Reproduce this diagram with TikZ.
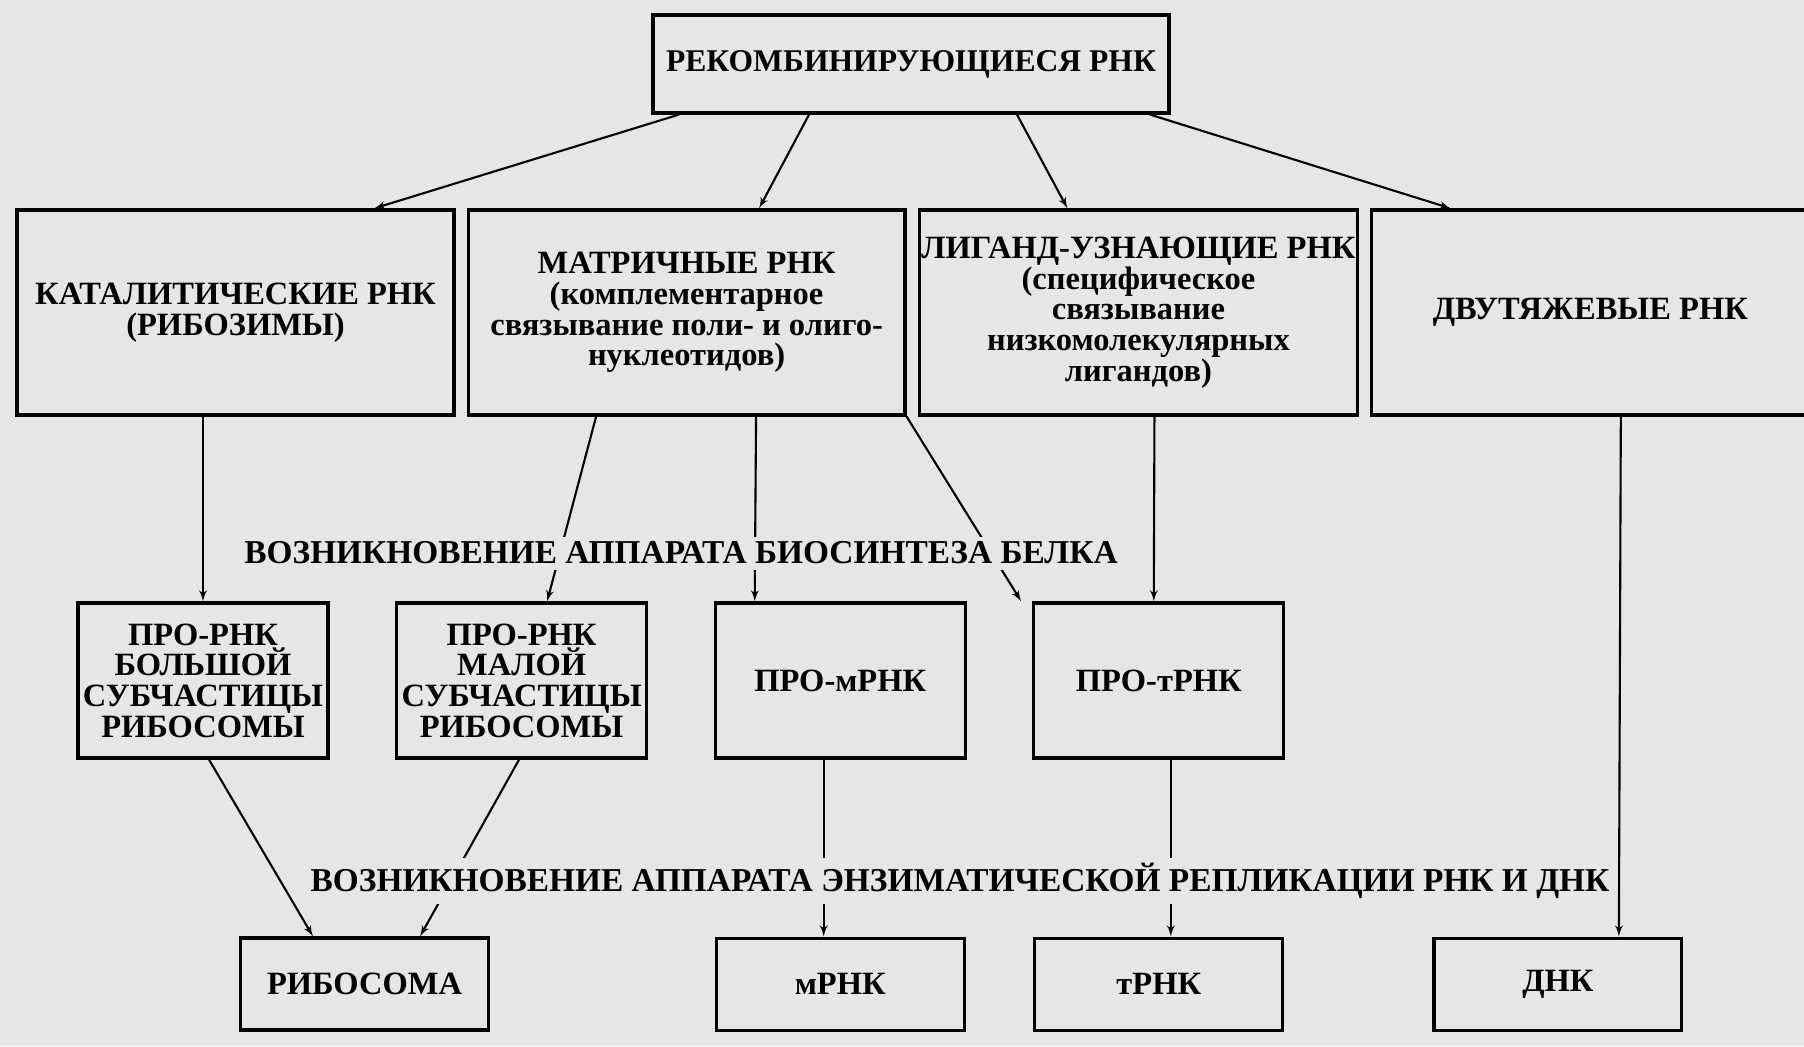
\documentclass[tikz,border=0pt]{standalone}
\usepackage{fontspec}
\setmainfont{Liberation Serif}
\usetikzlibrary{arrows}
\usetikzlibrary{positioning}
\definecolor{paper}{RGB}{230,230,230}
\tikzset{
    block/.style={
           rectangle,
           draw=black, line width=1.8pt,
           fill=paper,
           inner sep=1pt,
           align=center,
           font=\bfseries\fontsize{18.5}{17.5}\selectfont,
           },
    stage/.style={
           %rectangle,
           %draw=black,
           fill=paper,
           inner sep=3pt,
           font=\bfseries\fontsize{19}{19}\selectfont,
           },
    link/.style={
           -latex',
           line width=1.2pt,
           },
}

\begin{document}
\begin{tikzpicture}[auto, x=0.02cm, y=-0.02cm, node distance=0.22cm and 0.22cm]
	\clip (0,0) rectangle (1804,1046);
	\fill[paper] (0,0) rectangle (1804,1046);

	\node[block, minimum width=10.32cm, minimum height=1.96cm, font=\bfseries\fontsize{18}{18}\selectfont] (rec) at (911,64) {РЕКОМБИНИРУЮЩИЕСЯ РНК};

	\node[block, minimum width=8.74cm, minimum height=4.1cm] (cat) at (235.5,312.5) {
		КАТАЛИТИЧЕСКИЕ РНК\\(РИБОЗИМЫ)
	};
	\node[block, right=of cat, minimum width=8.74cm, minimum height=4.1cm] (mat) {
		МАТРИЧНЫЕ РНК\\(комплементарное\\связывание поли- и олиго-\\нуклеотидов)
	};
	\node[block, right=0.23cm of mat, minimum width=8.74cm, minimum height=4.1cm] (lig) {
		ЛИГАНД-УЗНАЮЩИЕ РНК\\(специфическое\\связывание\\низкомолекулярных\\лигандов)
	};
	\node[block, right=0.23cm of lig, minimum width=8.74cm, minimum height=4.1cm] (dvu) {ДВУТЯЖЕВЫЕ РНК};

	\node[block, minimum width=5cm, minimum height=3.1cm] (p1) at (203,680.5) {
		ПРО-РНК\\БОЛЬШОЙ\\СУБЧАСТИЦЫ\\РИБОСОМЫ
	};
	\node[block, right=1.31cm of p1, minimum width=5cm, minimum height=3.1cm] (p2) {
		ПРО-РНК\\МАЛОЙ\\СУБЧАСТИЦЫ\\РИБОСОМЫ
	};
	\node[block, right=1.31cm of p2, minimum width=5cm, minimum height=3.1cm] (p3) {ПРО-мРНК};
	\node[block, right=1.31cm of p3, minimum width=5cm, minimum height=3.1cm] (p4) {ПРО-тРНК};

	\node[block, minimum width=4.96cm, minimum height=1.84cm] (rib) at (364.5,984) {РИБОСОМА};
	\node[block, below=3.54cm of p3, minimum width=4.96cm, minimum height=1.84cm] (mrna) {мРНК};
	\node[block, below=3.54cm of p4, minimum width=4.96cm, minimum height=1.84cm] (trna) {тРНК};
	\node[block, right=2.96cm of trna, minimum width=4.96cm, minimum height=1.84cm] (dnk) {ДНК};

	\path[link]	([xshift=-4.64cm]rec.south) edge ([xshift=2.77cm]cat.north)
			([xshift=-2.04cm]rec.south) edge ([xshift=1.45cm]mat.north)
			([xshift=2.12cm]rec.south) edge ([xshift=-1.42cm]lig.north)
			([xshift=4.78cm]rec.south) edge ([xshift=-2.79cm]dvu.north);

	\path[link]	(cat.south -| p1.north) edge (p1.north)
			([xshift=-1.81cm]mat.south) edge ([xshift=0.51cm]p2.north)
			([xshift=1.39cm]mat.south) edge ([xshift=-1.71cm]p3.north)
			(mat.south east) edge ([xshift=-0.22cm]p4.north west)
			([xshift=0.32cm]lig.south) edge ([xshift=-0.1cm]p4.north)
			([xshift=0.61cm]dvu.south) edge ([xshift=1.22cm]dnk.north);

	\path[link]	([xshift=0.12cm]p1.south) edge ([xshift=-1.03cm]rib.north)
			([xshift=-0.05cm]p2.south) edge ([xshift=1.11cm]rib.north)
			([xshift=-0.33cm]p3.south) edge ([xshift=-0.33cm]mrna.north)
			([xshift=0.24cm]p4.south) edge ([xshift=0.24cm]trna.north);

	\node[stage] (bio) at (681,553) {ВОЗНИКНОВЕНИЕ АППАРАТА БИОСИНТЕЗА БЕЛКА};
	\node[stage] (rep) at (960,881) {ВОЗНИКНОВЕНИЕ АППАРАТА ЭНЗИМАТИЧЕСКОЙ РЕПЛИКАЦИИ РНК И ДНК};

\end{tikzpicture}
\end{document}
